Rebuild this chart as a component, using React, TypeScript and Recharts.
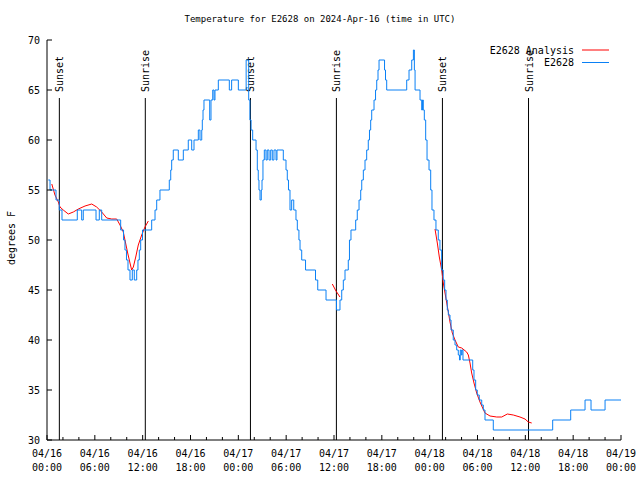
import React from 'react'
import { LineChart, Line, XAxis, YAxis, ReferenceLine, Legend } from 'recharts'

// hours since 2024-04-16 00:00 UTC
const obsHours = [
  0.16, 0.38, 1.13, 1.54, 1.88, 3.8, 4.35, 4.55, 6.15, 6.56, 6.86, 9.24, 9.6, 9.78, 9.97, 10.16,
  10.41, 10.7, 10.95, 11.25, 11.41, 11.58, 11.75, 11.98, 13.13, 13.55, 13.76, 14.17, 15.34, 15.52,
  15.64, 15.84, 16.47, 17.1, 17.72, 18.15, 18.44, 18.98, 19.19, 19.41, 19.48, 19.57, 19.69, 20.41,
  20.57, 20.79, 20.95, 21.07, 21.49, 22.87, 23.16, 24.0, 24.98, 25.3, 25.45, 25.6, 25.8, 26.22,
  26.38, 26.5, 26.59, 26.72, 26.88, 26.97, 27.09, 27.26, 27.47, 27.63, 27.85, 28.06, 28.26, 28.47,
  28.73, 28.85, 29.64, 29.98, 30.14, 30.29, 30.48, 30.69, 30.95, 31.23, 31.4, 31.6, 31.74, 31.95,
  32.43, 33.68, 33.96, 35.0, 36.31, 36.75, 36.97, 37.17, 37.38, 37.79, 37.94, 38.13, 38.72, 38.92,
  39.14, 39.35, 39.48, 39.68, 39.89, 40.1, 40.3, 40.45, 40.6, 40.73, 41.02, 41.21, 41.36, 41.52,
  41.65, 42.34, 42.46, 42.61, 45.12, 45.41, 45.75, 45.96, 46.08, 46.17, 46.79, 47.0, 47.1, 47.2,
  47.33, 47.5, 47.67, 47.92, 48.13, 48.29, 48.54, 48.79, 49.08, 49.29, 49.5, 49.7, 49.88, 50.05,
  50.21, 50.34, 50.55, 50.68, 50.96, 51.18, 51.39, 51.59, 51.74, 51.84, 51.97, 52.06, 52.18, 53.4,
  53.56, 53.77, 53.97, 54.22, 54.53, 54.73, 54.94, 55.98, 63.43, 65.69, 67.49, 68.24, 70.0, 72.0,
]
const obsTemps = [
  56, 55, 54, 53, 52, 53, 52, 53, 52, 53, 52, 51, 50, 49, 48, 47,
  46, 47, 46, 47, 48, 49, 50, 51, 52, 53, 54, 55, 56, 57,
  58, 59, 58, 59, 60, 59, 60, 61, 60, 61, 62, 63, 64, 62,
  64, 65, 64, 65, 66, 65, 66, 65, 68, 64, 62, 61, 60, 59,
  57, 56, 55, 54, 55, 56, 58, 59, 58, 59, 58, 59, 58, 59,
  58, 59, 58, 57, 56, 55, 53, 54, 53, 52, 51, 50, 49, 48,
  47, 46, 45, 44, 43, 44, 45, 46, 47, 48, 50, 51, 52, 53,
  54, 55, 56, 57, 58, 59, 60, 61, 62, 63, 64, 65, 66, 67,
  68, 67, 66, 65, 66, 67, 68, 69, 67, 65, 64, 63, 64, 63,
  62, 60, 58, 57, 55, 53, 52, 51, 50, 49, 47, 46, 45, 44,
  43, 42.5, 42, 41, 40, 39.5, 39, 38.5, 38, 39, 38.5, 39, 38, 37,
  36, 35, 34.5, 34, 33.5, 33, 32, 31, 32, 33, 34, 33, 34, 34,
]

// analysis curve, null = gap
const fitHours = [
  0.6, 1.0, 1.42, 1.63, 2.04, 2.67, 3.3, 3.93, 4.77, 5.61, 6.23, 6.86, 7.49, 8.12, 8.74, 9.16,
  9.57, 9.78, 10.12, 10.41, 10.62, 10.83, 11.13, 11.45, 11.88, 12.29, 12.71,
  24.0,
  35.79, 36.25, 36.75,
  42.0,
  48.67, 48.96, 49.21, 49.51, 49.71, 50.01, 50.34, 50.55, 50.84, 51.18, 51.59, 52.02, 52.64,
  52.85, 53.06, 53.27, 53.56, 53.9, 54.31, 54.65, 54.94, 55.57, 56.41, 57.04, 57.74, 58.49,
  59.33, 59.96, 60.37, 60.8,
]
const fitTemps = [
  55.6, 54.5, 53.8, 53.3, 53.0, 52.6, 52.8, 53.1, 53.4, 53.6, 53.3, 52.8, 52.2, 52.1, 52.1, 51.5,
  50.8, 50.0, 48.7, 47.7, 47.0, 47.3, 48.3, 49.5, 50.5, 51.3, 51.9,
  null,
  45.6, 44.9, 44.3,
  null,
  51.1, 49.7, 48.3, 47.0, 45.7, 44.3, 42.8, 41.8, 40.7, 40.0, 39.3, 39.2, 38.8,
  38.5, 37.7, 36.7, 35.7, 34.7, 33.8, 33.2, 32.7, 32.4, 32.3, 32.3, 32.6, 32.5,
  32.3, 32.1, 31.8, 31.7,
]

const sunHours = [1.55, 12.33, 25.52, 36.3, 49.6, 60.4]
const sunNames = ['Sunset', 'Sunrise', 'Sunset', 'Sunrise', 'Sunset', 'Sunrise']
const hourTicks = Array.from({ length: 37 }, (_, i) => i * 2)
const tempTicks = [30, 35, 40, 45, 50, 55, 60, 65, 70]

const FONT = '"DejaVu Sans Mono", monospace'
const BLUE = '#0a80f5'
const RED = '#ff0000'

const obsData = obsHours.map((t, i) => ({ t, v: obsTemps[i] }))
const fitData = fitHours.map((t, i) => ({ t, v: fitTemps[i] }))

function BottomTick(props: any) {
  const { x, y, payload } = props
  const t = payload.value as number
  const major = t % 6 === 0
  const day = 16 + Math.floor(t / 24)
  const hh = String(t % 24).padStart(2, '0')
  return (
    <g>
      <line x1={x} x2={x} y1={y} y2={y - (major ? 5 : 3)} stroke="#000" />
      {major && (
        <text x={x} y={y + 17} textAnchor="middle" fontFamily={FONT} fontSize={10} fill="#000">
          {`04/${day}`}
        </text>
      )}
      {major && (
        <text x={x} y={y + 31} textAnchor="middle" fontFamily={FONT} fontSize={10} fill="#000">
          {`${hh}:00`}
        </text>
      )}
    </g>
  )
}

function TopTick(props: any) {
  const { x, y, payload } = props
  const major = (payload.value as number) % 6 === 0
  return <line x1={x} x2={x} y1={y} y2={y + (major ? 5 : 3)} stroke="#000" />
}

function LeftTick(props: any) {
  const { x, y, payload } = props
  return (
    <g>
      <line x1={x} x2={x + 5} y1={y} y2={y} stroke="#000" />
      <text x={x - 7} y={y + 3.5} textAnchor="end" fontFamily={FONT} fontSize={10} fill="#000">
        {payload.value}
      </text>
    </g>
  )
}

function RightTick(props: any) {
  const { x, y } = props
  return <line x1={x} x2={x - 5} y1={y} y2={y} stroke="#000" />
}

const sunLabel = (name: string) => (props: any) => {
  const vb = props.viewBox
  return (
    <text
      transform={`translate(${vb.x + 4},${vb.y - 6}) rotate(-90)`}
      fontFamily={FONT}
      fontSize={10}
      fill="#000"
    >
      {name}
    </text>
  )
}

function KeyBox() {
  return (
    <svg width={640} height={80}>
      <text x={574} y={53.5} textAnchor="end" fontFamily={FONT} fontSize={10} fill="#000">
        E2628 Analysis
      </text>
      <line x1={582} x2={609} y1={50} y2={50} stroke={RED} />
      <text x={574} y={66} textAnchor="end" fontFamily={FONT} fontSize={10} fill="#000">
        E2628
      </text>
      <line x1={582} x2={609} y1={62.5} y2={62.5} stroke={BLUE} />
    </svg>
  )
}

export default function App() {
  return (
    <div style={{ position: 'absolute', left: 0, top: 0, width: 640, height: 480, background: '#fff' }}>
      <div
        style={{
          position: 'absolute',
          top: 13,
          left: 0,
          width: 640,
          textAlign: 'center',
          fontFamily: FONT,
          fontSize: 9,
          lineHeight: '12px',
          color: '#000',
        }}
      >
        Temperature for E2628 on 2024-Apr-16 (time in UTC)
      </div>
      <LineChart width={640} height={480} margin={{ top: 40, right: 19, bottom: 0, left: 0 }}>
        <XAxis
          dataKey="t"
          type="number"
          domain={[0, 72]}
          allowDataOverflow
          ticks={hourTicks}
          interval={0}
          height={40}
          tickSize={0}
          tickMargin={0}
          tickLine={false}
          tick={BottomTick}
          axisLine={{ stroke: '#000' }}
        />
        <XAxis
          xAxisId="top"
          orientation="top"
          dataKey="t"
          type="number"
          domain={[0, 72]}
          allowDataOverflow
          ticks={hourTicks}
          interval={0}
          height={0}
          tickSize={0}
          tickMargin={0}
          tickLine={false}
          tick={TopTick}
          axisLine={{ stroke: '#000' }}
        />
        <YAxis
          type="number"
          domain={[30, 70]}
          allowDataOverflow
          ticks={tempTicks}
          interval={0}
          width={47}
          tickSize={0}
          tickMargin={0}
          tickLine={false}
          tick={LeftTick}
          axisLine={{ stroke: '#000' }}
          label={() => (
            <text
              transform="translate(15,238) rotate(-90)"
              textAnchor="middle"
              fontFamily={FONT}
              fontSize={10}
              fill="#000"
            >
              degrees F
            </text>
          )}
        />
        <YAxis
          yAxisId="right"
          orientation="right"
          type="number"
          domain={[30, 70]}
          allowDataOverflow
          ticks={tempTicks}
          interval={0}
          width={0}
          tickSize={0}
          tickMargin={0}
          tickLine={false}
          tick={RightTick}
          axisLine={{ stroke: '#000' }}
        />
        {sunHours.map((h, i) => (
          <ReferenceLine
            key={i}
            segment={[
              { x: h, y: 64.2 },
              { x: h, y: 30 },
            ]}
            stroke="#000"
            strokeWidth={1}
            label={sunLabel(sunNames[i])}
          />
        ))}
        <Line
          data={fitData}
          dataKey="v"
          name="E2628 Analysis"
          type="linear"
          stroke={RED}
          strokeWidth={1}
          dot={false}
          connectNulls={false}
          isAnimationActive={false}
        />
        <Line
          data={obsData}
          dataKey="v"
          name="E2628"
          type="stepAfter"
          stroke={BLUE}
          strokeWidth={1}
          dot={false}
          isAnimationActive={false}
        />
        <Legend
          layout="vertical"
          align="center"
          verticalAlign="middle"
          wrapperStyle={{ left: 0, top: 0, width: 640, height: 80, pointerEvents: 'none' }}
          content={() => <KeyBox />}
        />
      </LineChart>
    </div>
  )
}
